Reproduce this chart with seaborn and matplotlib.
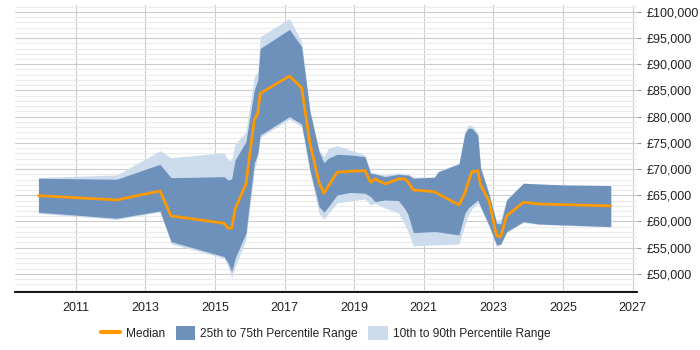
import numpy as np
import pandas as pd
import seaborn as sns
import matplotlib.pyplot as plt
from matplotlib.ticker import MultipleLocator, FuncFormatter
from matplotlib.lines import Line2D
from matplotlib.patches import Patch

# values
years = [2009.93, 2012.18, 2013.42, 2013.74, 2015.26, 2015.38, 2015.48, 2015.58,
         2015.89, 2016.13, 2016.23, 2016.30, 2017.14, 2017.49, 2017.73, 2017.99,
         2018.13, 2018.26, 2018.51, 2018.88, 2019.31, 2019.47, 2019.60, 2019.89,
         2020.27, 2020.46, 2020.55, 2020.70, 2021.30, 2021.42, 2022.01, 2022.18,
         2022.28, 2022.38, 2022.55, 2022.63, 2022.88, 2023.09, 2023.21, 2023.38,
         2023.86, 2024.29, 2025.01, 2026.37]
median = [64930, 64110, 65825, 61060, 59670, 58720, 58720, 62400,
          67160, 79360, 80640, 84450, 87740, 85510, 74920, 67410,
          65390, 66780, 69390, 69580, 69700, 67480, 68110, 67160,
          68110, 68110, 67480, 66020, 65690, 65250, 63160, 65390,
          67540, 69500, 69700, 66970, 63790, 57250, 57120, 61060,
          63670, 63350, 63210, 62970]
p75 = [68250, 68060, 70910, 68360, 68550, 67920, 68110, 71730,
       75220, 85080, 86980, 93020, 96650, 93330, 80940, 73320,
       71220, 72060, 72820, 72690, 72360, 69200, 69070, 68550,
       69010, 68880, 68880, 68250, 68440, 69500, 70970, 76820,
       77780, 77780, 76500, 70210, 65060, 59670, 59540, 64110,
       67290, 67160, 66970, 66840]
p25 = [61770, 60620, 62010, 56160, 53300, 52100, 50440, 53000,
       57760, 71100, 73010, 76500, 79990, 78600, 69830, 62830,
       61770, 62830, 65060, 65540, 65390, 64740, 63790, 64110,
       63980, 62400, 61250, 57880, 58070, 58010, 57440, 61580,
       62590, 63160, 64110, 62830, 59150, 55530, 55720, 58070,
       59970, 59540, 59350, 59020]
p90 = [68400, 68880, 73510, 72170, 73130, 71730, 71730, 74780,
       77130, 87610, 88560, 95240, 98740, 94280, 81260, 73770,
       72360, 73960, 74460, 73640, 72690, 69450, 69260, 68880,
       69260, 69070, 69070, 68490, 68490, 69640, 71160, 77260,
       78410, 78310, 76880, 70400, 65250, 60110, 60490, 64300,
       67350, 67160, 66970, 66840]
p10 = [61540, 60390, 61820, 55720, 53000, 51340, 49190, 51400,
       56490, 69830, 72360, 76060, 79490, 78080, 69200, 61580,
       60430, 61580, 63540, 63920, 64300, 63160, 63480, 62530,
       61630, 59350, 58010, 55340, 55530, 55530, 55720, 59350,
       61250, 62400, 63480, 62590, 58960, 55210, 55530, 57880,
       59820, 59440, 59250, 59020]

df = pd.DataFrame({"year": years, "median": median, "p25": p25, "p75": p75,
                   "p10": p10, "p90": p90})

dark = "#6d91bb"
light = "#cddcec"
orange = "#ff9900"

sns.set_style("white")
plt.rcParams["font.family"] = ["Liberation Sans", "DejaVu Sans"]

fig = plt.figure(figsize=(7, 3.5), dpi=100)
ax = fig.add_axes([0.0214, 0.165, 0.8882, 0.8207])

ax.fill_between(df["year"], df["p10"], df["p90"], color=light, lw=0, zorder=1)
ax.fill_between(df["year"], df["p25"], df["p75"], color=dark, lw=0, zorder=2)
sns.lineplot(data=df, x="year", y="median", color=orange, lw=2, ax=ax, zorder=3)

ax.set_xlim(2009.256, 2027.116)
ax.set_ylim(46500, 101300)
ax.set_xlabel("")
ax.set_ylabel("")

ax.xaxis.set_major_locator(MultipleLocator(2, offset=1))
ax.yaxis.set_major_locator(MultipleLocator(5000))
ax.yaxis.set_minor_locator(MultipleLocator(1000))
ax.yaxis.set_major_formatter(FuncFormatter(lambda v, p: f"£{v:,.0f}"))
ax.yaxis.tick_right()

ax.grid(axis="x", which="major", color="#cccccc", lw=0.8)
ax.grid(axis="y", which="major", color="#cccccc", lw=0.8)
ax.grid(axis="y", which="minor", color="#ebebeb", lw=0.8)
ax.set_axisbelow(True)

for s in ["top", "left", "right"]:
    ax.spines[s].set_visible(False)
ax.spines["bottom"].set_color("#000000")
ax.spines["bottom"].set_linewidth(1.3)

ax.tick_params(axis="x", which="major", length=3, width=0.8, color="#333333",
               labelsize=9, labelcolor="#222222", pad=4, direction="out")
ax.tick_params(axis="y", which="major", length=3, width=0.8, color="#999999",
               labelsize=9, labelcolor="#222222", pad=4, right=True, left=False)
ax.tick_params(axis="y", which="minor", length=0, right=False, left=False)

handles = [Line2D([0], [0], color=orange, lw=3),
           Patch(facecolor=dark, edgecolor="none"),
           Patch(facecolor=light, edgecolor="none")]
labels = ["Median", "25th to 75th Percentile Range", "10th to 90th Percentile Range"]
ax.legend(handles, labels, loc="center", bbox_to_anchor=(0.5, -0.142), ncol=3,
          frameon=False, fontsize=8.6, handlelength=1.6, handleheight=1.4,
          handletextpad=0.45, columnspacing=0.9, labelcolor="#222222")

fig.savefig("out.png", dpi=100)
